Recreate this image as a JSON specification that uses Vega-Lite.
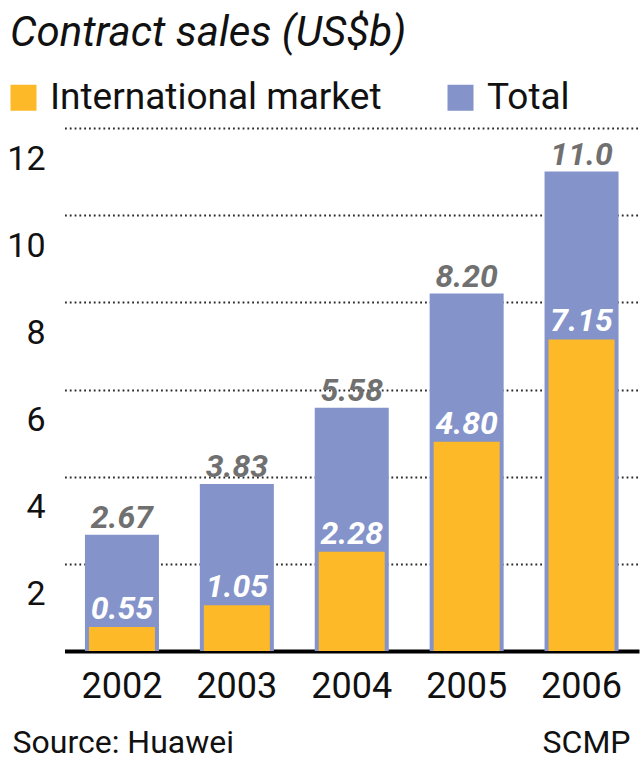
{
  "$schema": "https://vega.github.io/schema/vega-lite/v6.json",
  "width": 624,
  "height": 523,
  "autosize": {"type": "none"},
  "padding": {"left": 8, "top": 128, "right": 8, "bottom": 112},
  "background": "white",
  "config": {"view": {"stroke": null}, "font": "Roboto"},
  "title": {
    "text": "Contract sales (US$b)",
    "anchor": "start",
    "frame": "group",
    "font": "Roboto",
    "fontSize": 42,
    "fontStyle": "italic",
    "fontWeight": "normal",
    "color": "#111111",
    "offset": 24,
    "dx": 2
  },
  "data": {
    "values": [
      {"year": "2002", "total": 2.67, "intl": 0.55},
      {"year": "2003", "total": 3.83, "intl": 1.05},
      {"year": "2004", "total": 5.58, "intl": 2.28},
      {"year": "2005", "total": 8.20, "intl": 4.80},
      {"year": "2006", "total": 11.0, "intl": 7.15}
    ]
  },
  "encoding": {
    "x": {
      "field": "year",
      "type": "ordinal",
      "title": "Source: Huawei",
      "scale": {"range": [56.5, 631], "paddingInner": 0.356, "paddingOuter": 0.178},
      "axis": {
        "labelAngle": 0,
        "labelFont": "Roboto",
        "labelFontSize": 36,
        "labelColor": "#111111",
        "labelPadding": 18,
        "ticks": false,
        "domain": true,
        "domainColor": "#000000",
        "domainWidth": 4,
        "titleFont": "Roboto",
        "titleFontSize": 32,
        "titleFontWeight": "normal",
        "titleColor": "#111111",
        "titleAnchor": "start",
        "titleAlign": "left",
        "titleBaseline": "alphabetic",
        "titleX": 4,
        "titleY": 101
      }
    }
  },
  "layer": [
    {
      "mark": {"type": "bar", "size": 74},
      "encoding": {
        "y": {
          "field": "total",
          "type": "quantitative",
          "title": "SCMP",
          "scale": {"domain": [0, 12]},
          "axis": {
            "values": [2, 4, 6, 8, 10, 12],
            "grid": true,
            "gridDash": [1.8, 3],
            "gridColor": "#2a2a2a",
            "gridWidth": 1.8,
            "domain": false,
            "ticks": false,
            "labelAlign": "right",
            "labelBaseline": "middle",
            "labelPadding": -37,
            "labelOffset": 31,
            "labelFont": "Roboto",
            "labelFontSize": 34,
            "labelColor": "#111111",
            "titleAngle": 0,
            "titleX": 622,
            "titleY": 624,
            "titleAlign": "right",
            "titleBaseline": "alphabetic",
            "titleFont": "Roboto",
            "titleFontSize": 32,
            "titleFontWeight": "normal",
            "titleColor": "#111111"
          }
        },
        "color": {
          "datum": "Total",
          "type": "nominal",
          "scale": {"domain": ["International market", "Total"], "range": ["#FDB927", "#8493C9"]},
          "legend": {
            "orient": "none",
            "legendX": -3,
            "legendY": -49,
            "direction": "horizontal",
            "title": null,
            "symbolType": "square",
            "symbolSize": 676,
            "symbolStrokeWidth": 0,
            "labelFont": "Roboto",
            "labelFontSize": 37,
            "labelColor": "#111111",
            "labelLimit": 0,
            "labelOffset": 8,
            "columnPadding": 60,
            "padding": 0
          }
        }
      }
    },
    {
      "mark": {"type": "bar", "size": 66},
      "encoding": {
        "y": {"field": "intl", "type": "quantitative", "title": "SCMP"},
        "color": {"datum": "International market", "type": "nominal"}
      }
    },
    {
      "mark": {"type": "text", "font": "Roboto", "fontSize": 32, "fontStyle": "italic", "fontWeight": "bold", "color": "#707070", "baseline": "alphabetic", "dy": -7},
      "encoding": {
        "y": {"field": "total", "type": "quantitative", "title": "SCMP"},
        "text": {"field": "total", "type": "quantitative", "format": ".3r"}
      }
    },
    {
      "mark": {"type": "text", "font": "Roboto", "fontSize": 32, "fontStyle": "italic", "fontWeight": "bold", "color": "#ffffff", "baseline": "alphabetic", "dy": -8},
      "encoding": {
        "y": {"field": "intl", "type": "quantitative", "title": "SCMP"},
        "text": {"field": "intl", "type": "quantitative", "format": ".2f"}
      }
    }
  ]
}
